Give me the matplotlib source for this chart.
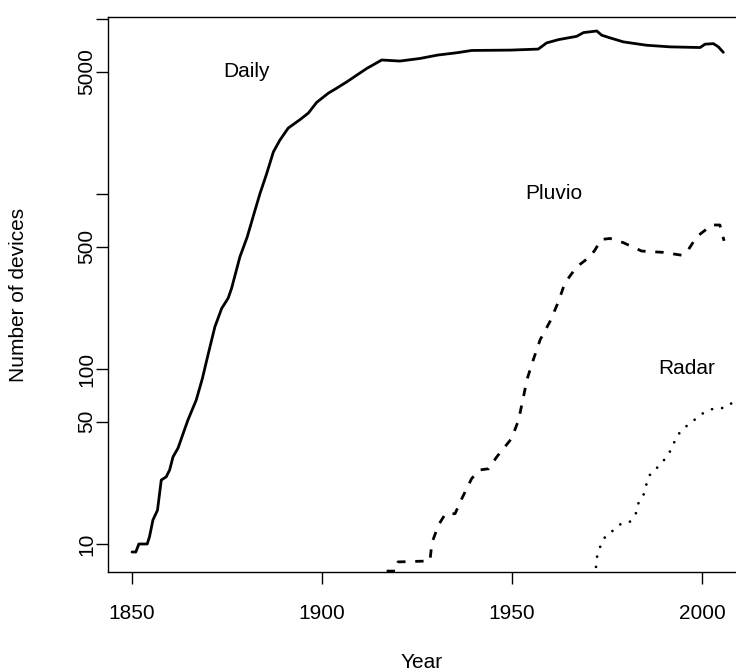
import matplotlib
matplotlib.use("Agg")
import matplotlib.pyplot as plt

plt.rcParams['font.family'] = ['Liberation Sans', 'DejaVu Sans']
plt.rcParams['lines.scale_dashes'] = False

# ---- data ----
daily_year = [1850, 1851, 1851.8, 1854, 1854.6, 1855.5, 1856.7, 1857.7, 1859, 1859.9,
              1860.8, 1862.1, 1864.7, 1866.9, 1868.5, 1870.1, 1871.8, 1873.6, 1875.3, 1876.2,
              1878.4, 1880.3, 1882.4, 1883.7, 1885.4, 1887.2, 1888.9, 1891.1, 1894.2, 1896.4,
              1898.6, 1901.6, 1903.9, 1906.5, 1909.1, 1911.8, 1915.7, 1920.5, 1925.8, 1930.4,
              1935.4, 1939.4, 1949.5, 1956.9, 1959.1, 1962.2, 1967, 1968.8, 1972.3, 1973.6,
              1975.8, 1979.3, 1985.4, 1991.6, 1999.5, 2000.8, 2003, 2004.3, 2005.6]
daily_val = [9, 9, 10, 10, 11, 13.7, 15.6, 23.2, 24.2, 26.5,
             31.5, 35.3, 51, 66.5, 88, 123, 174, 222, 254, 289,
             438, 567, 812, 1010, 1300, 1740, 2030, 2380, 2660, 2900,
             3340, 3760, 4030, 4370, 4770, 5220, 5830, 5750, 5950, 6220,
             6410, 6610, 6640, 6730, 7300, 7620, 7960, 8360, 8540, 8080,
             7800, 7400, 7080, 6930, 6870, 7180, 7230, 6930, 6450]

pluvio_year = [1917, 1919.5, 1920, 1928.4, 1928.9, 1930.6, 1932.5, 1935, 1936.8, 1939.4,
               1941.5, 1943.8, 1946, 1949.9, 1951.7, 1953, 1953.9, 1955.6, 1957.4, 1960,
               1962.2, 1963.9, 1967, 1970.5, 1971.8, 1973.5, 1975.8, 1979.3, 1984.1, 1989.8,
               1994.6, 1996, 1998.6, 2002.6, 2004.7, 2005.8]
pluvio_val = [7.0, 7.0, 7.9, 8.0, 10.1, 12.8, 14.9, 14.9, 18.2, 23.7,
              26.5, 26.9, 31.5, 40.1, 51, 69, 86.6, 113, 147, 187,
              242, 310, 383, 438, 478, 550, 557, 527, 472, 464,
              447, 466, 570, 665, 665, 540]

radar_year = [1972.1, 1972.4, 1973.3, 1974.6, 1976.5, 1978.6, 1980.9, 1982.6, 1983.3, 1984.7,
              1985.4, 1986.4, 1988.5, 1990.3, 1991.8, 1992.9, 1994.2, 1996.2, 1998.4, 2000.6,
              2003.2, 2005.9, 2008.2]
radar_val = [7.4, 8.5, 9.8, 11.1, 11.9, 13.0, 13.3, 15.0, 17.2, 19.3,
             22.1, 25.2, 27.7, 30.7, 34.4, 39.1, 43.6, 47.8, 52, 56.6,
             59.6, 59.9, 64.6]

x_ticks = [1850, 1900, 1950, 2000]
y_ticks = [10, 50, 100, 500, 1000, 5000, 10000]
y_tick_labels = ['10', '50', '100', '500', '', '5000', '']

series_labels = ['Daily', 'Pluvio', 'Radar']
label_pos_year = [1880, 1961, 1996]
label_pos_val = [5000, 1000, 100]

# ---- figure ----
W, H = 736, 671
fig = plt.figure(figsize=(W / 100, H / 100), dpi=100)
left, right, top, bottom = 108, 737, 17, 572
ax = fig.add_axes([left / W, (H - bottom) / H, (right - left) / W, (bottom - top) / H])

lw = 2.0
ax.plot(daily_year, daily_val, color='black', lw=lw, solid_capstyle='round', solid_joinstyle='round')
ax.plot(pluvio_year, pluvio_val, color='black', lw=lw, linestyle=(0, (6.0, 7.0)),
        dash_capstyle='butt')
ax.plot(radar_year, radar_val, color='black', lw=lw, linestyle=(0, (0.01, 7.4)),
        dash_capstyle='round')

ax.set_yscale('log')
ax.set_xlim(1843.68, 2009.2)
ax.set_ylim(6.918, 10266)

ax.set_xticks(x_ticks)
ax.set_xticklabels([str(t) for t in x_ticks])
ax.set_yticks(y_ticks)
ax.set_yticklabels(y_tick_labels, rotation=90, va='center')
ax.yaxis.set_minor_locator(matplotlib.ticker.NullLocator())

fs = 15
ax.tick_params(axis='both', which='major', length=8.3, width=1.0, direction='out',
               labelsize=fs, color='black')
ax.tick_params(axis='x', pad=15)
ax.tick_params(axis='y', pad=0)

for s in ax.spines.values():
    s.set_linewidth(1.0)

for lab, xx, yy in zip(series_labels, label_pos_year, label_pos_val):
    ax.text(xx, yy, lab, fontsize=fs, ha='center', va='center')

fig.text(422 / W, 1 - 662 / H, 'Year', fontsize=fs, ha='center', va='center')
fig.text(19 / W, 1 - 294.5 / H, 'Number of devices', fontsize=fs, ha='center', va='center',
         rotation=90)

fig.savefig('out.png', dpi=100)
